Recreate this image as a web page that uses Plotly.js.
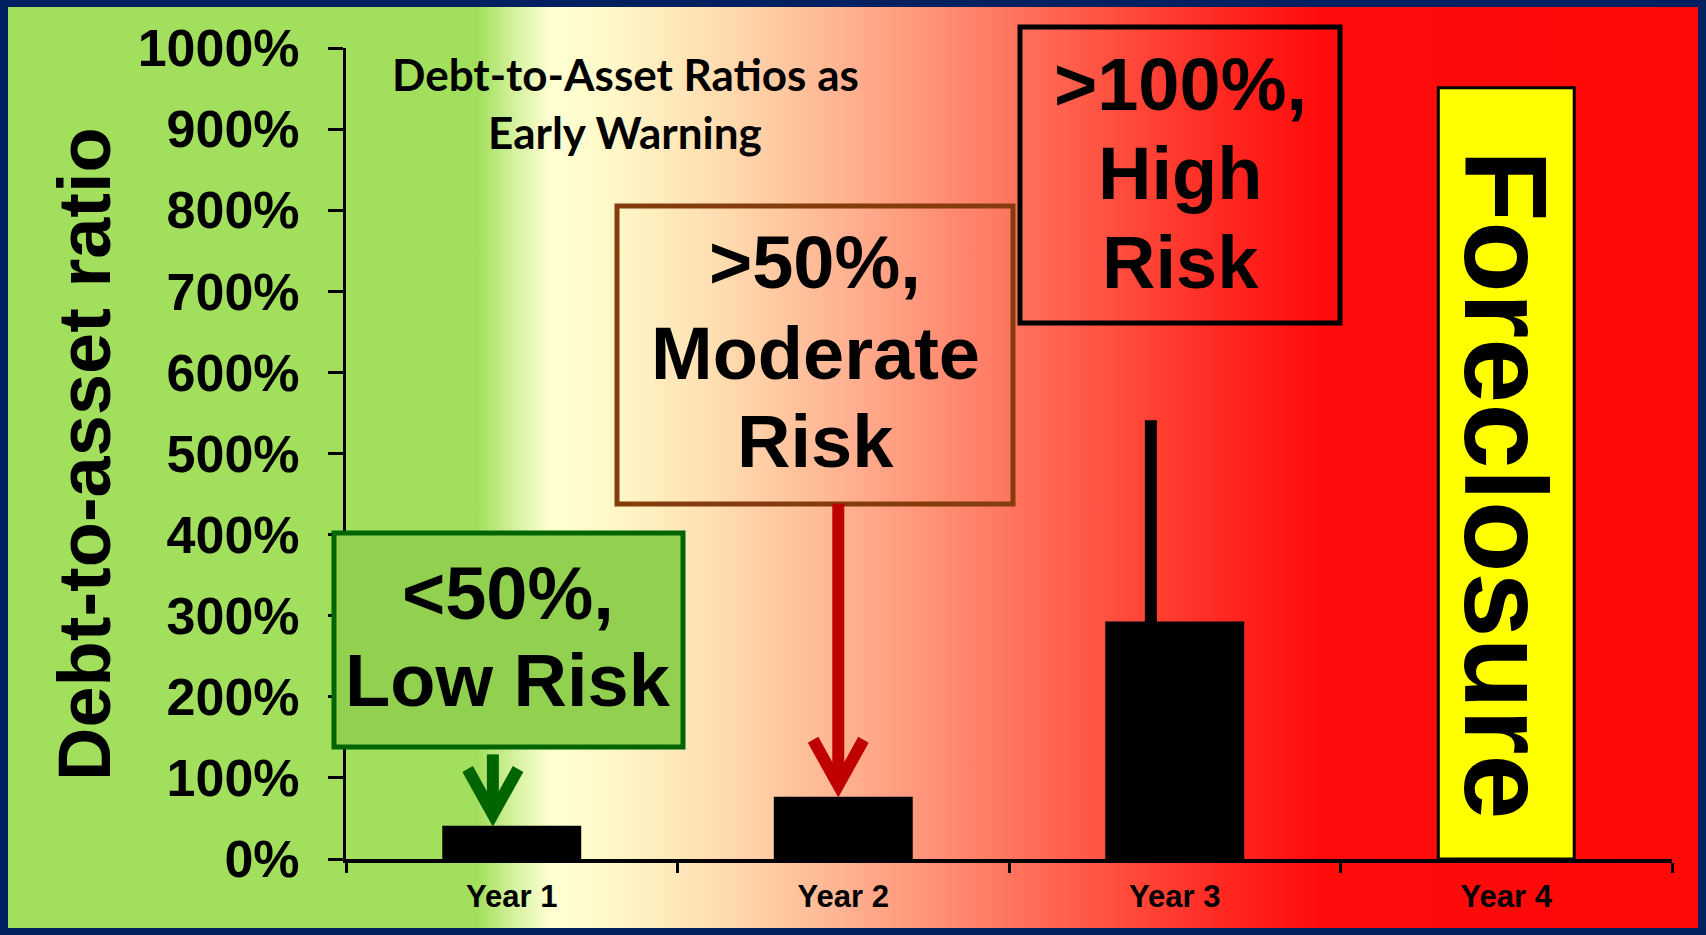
<!DOCTYPE html>
<html>
<head>
<meta charset="utf-8">
<script src="https://cdn.plot.ly/plotly-3.0.1.min.js"></script>
<style>
  html, body { margin:0; padding:0; width:1706px; height:935px; overflow:hidden; background:#002060; }
  #bg { position:absolute; left:8px; top:7px; width:1690px; height:921px;
        background: linear-gradient(to right,
          #A2DF5C 0%, #A2DF5C 27.8%, #D6F2A0 30.0%, #FFFFD2 32.2%, #FFF8C8 35.6%,
          #FFDDB0 42.1%, #FFB090 49.8%, #FF8068 57.5%, #FF5040 65.2%,
          #FF2A22 71.7%, #FF0C0C 77.6%, #FF0808 100%); }
  #chart { position:absolute; left:0; top:0; width:1706px; height:935px; }
</style>
</head>
<body>
<div id="bg"></div>
<div id="chart"></div>
<script>
// ---- data ----
const categories = ['Year 1', 'Year 2', 'Year 3', 'Year 4'];
const ratios = [39, 75, 291, 951];            // debt-to-asset ratio, %
const barColors = ['#000000', '#000000', '#000000', '#FFFF00'];
const year3LineTop = 541;                      // vertical line above Year 3 bar, %
const yTickVals = [0, 100, 200, 300, 400, 500, 600, 700, 800, 900, 1000];
const yTickText = ['0%', '100%', '200%', '300%', '400%', '500%', '600%', '700%', '800%', '900%', '1000%'];
const chartTitleLines = ['Debt-to-Asset Ratios as', 'Early Warning'];
const yTitle = 'Debt-to-asset ratio';
const lowRiskLines = ['<50%,', 'Low Risk'];
const moderateRiskLines = ['>50%,', 'Moderate', 'Risk'];
const highRiskLines = ['>100%,', 'High', 'Risk'];
const foreclosureLabel = 'Foreclosure';

// ---- geometry helpers (plot area in px) ----
const L = 346, R = 34, T = 48, B = 76, W = 1706, H = 935;
const PW = W - L - R, PH = H - T - B;
const PX = px => (px - L) / PW;
const PY = py => (H - B - py) / PH;

const FAM = 'Liberation Sans, Arial, Helvetica, sans-serif';
const bold = (size, family) => ({ family: family || FAM, size: size, color: '#000000', weight: 700 });

function textLine(text, cx, cy, size, family) {
  return { text: text, xref: 'paper', yref: 'paper', x: PX(cx), y: PY(cy),
           xanchor: 'center', yanchor: 'middle', showarrow: false, font: bold(size, family) };
}
function box(x0, y0, x1, y1, fill, line) {
  return { type: 'rect', xref: 'paper', yref: 'paper', layer: 'above',
           x0: PX(x0), x1: PX(x1), y0: PY(y1), y1: PY(y0),
           fillcolor: fill, line: { color: line, width: 5 } };
}
function arrow(xc, tipVal, topVal, color) {
  const dx = 0.076, head = 56, miter = 16;
  return [
    { type: 'line', xref: 'x', yref: 'y', layer: 'above', x0: xc, x1: xc, y0: topVal, y1: tipVal + miter + 4,
      line: { color: color, width: 12 } },
    { type: 'path', xref: 'x', yref: 'y', layer: 'above',
      path: `M ${xc - dx},${tipVal + miter + head} L ${xc},${tipVal + miter} L ${xc + dx},${tipVal + miter + head}`,
      line: { color: color, width: 12 } }
  ];
}

const shapes = [
  box(334, 533, 683, 747, '#92D050', '#006400'),
  box(617, 206, 1013, 504, 'rgba(0,0,0,0)', '#843C0C'),
  box(1020, 27, 1340, 323, 'rgba(0,0,0,0)', '#000000'),
  ...arrow(-0.057, ratios[0], 129, '#006400'),
  ...arrow(0.985, ratios[1], 438, '#C00000'),
  { type: 'line', xref: 'x', yref: 'y', layer: 'above', x0: 1.928, x1: 1.928, y0: ratios[2], y1: year3LineTop,
    line: { color: '#000000', width: 12 } }
];

const annotations = [
  textLine(chartTitleLines[0], 625, 74, 44, 'Lato, Carlito, Calibri, sans-serif'),
  textLine(chartTitleLines[1], 625, 132, 44, 'Lato, Carlito, Calibri, sans-serif'),
  textLine(lowRiskLines[0], 508, 593, 74),
  textLine(lowRiskLines[1], 508, 680, 74),
  textLine(moderateRiskLines[0], 815, 262, 74),
  textLine(moderateRiskLines[1], 815, 353, 74),
  textLine(moderateRiskLines[2], 815, 441, 74),
  textLine(highRiskLines[0], 1180, 84, 74),
  textLine(highRiskLines[1], 1180, 173, 74),
  textLine(highRiskLines[2], 1180, 262, 74),
  { text: yTitle, xref: 'paper', yref: 'paper', x: PX(85), y: PY(454), textangle: -90,
    xanchor: 'center', yanchor: 'middle', showarrow: false, font: bold(74) },
  { text: foreclosureLabel, xref: 'x', yref: 'y', x: 3, y: 461, textangle: 90,
    xanchor: 'center', yanchor: 'middle', showarrow: false, font: bold(117) }
];

const trace = {
  type: 'bar', x: categories, y: ratios,
  marker: { color: barColors, line: { color: '#000000', width: 3 } },
  hoverinfo: 'skip'
};

const layout = {
  width: W, height: H,
  margin: { l: L, r: R, t: T, b: B, pad: 0 },
  paper_bgcolor: 'rgba(0,0,0,0)', plot_bgcolor: 'rgba(0,0,0,0)',
  showlegend: false, bargap: 0.59,
  xaxis: { type: 'category', range: [-0.5, 3.5], showline: true, linecolor: '#000000', linewidth: 4,
           ticks: 'outside', tickson: 'boundaries', ticklen: 10, tickwidth: 3, tickcolor: '#000000',
           tickfont: bold(31), showgrid: false, zeroline: false, fixedrange: true, ticklabelstandoff: 7 },
  yaxis: { range: [0, 1000], tickvals: yTickVals, ticktext: yTickText, showline: true,
           linecolor: '#000000', linewidth: 3, ticks: 'outside', ticklen: 15, tickwidth: 3, tickcolor: '#000000',
           tickfont: bold(52), showgrid: false, zeroline: false, fixedrange: true, ticklabelstandoff: 18 },
  shapes: shapes,
  annotations: annotations
};

Plotly.newPlot('chart', [trace], layout, { staticPlot: true, displayModeBar: false });
</script>
</body>
</html>
